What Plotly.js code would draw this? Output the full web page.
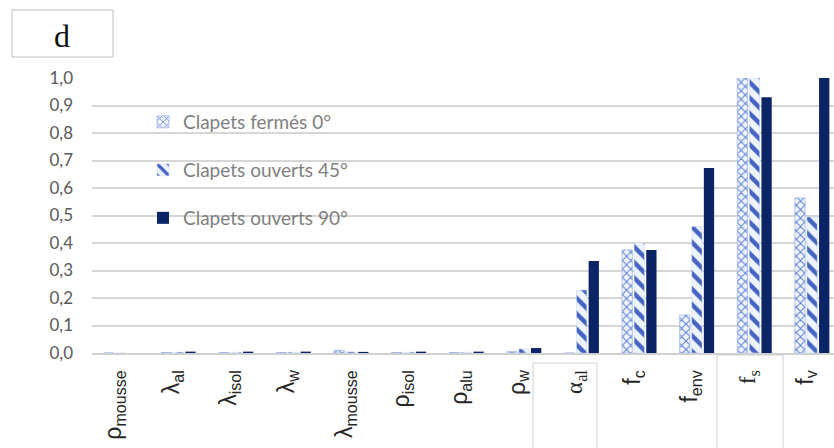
<!DOCTYPE html>
<html><head><meta charset="utf-8">
<script src="https://cdn.plot.ly/plotly-3.0.1.min.js"></script>
<style>body{margin:0;background:#fff}#c{width:834px;height:448px}</style>
</head><body><div id="c"></div>
<script>
const categories = ['ρ<sub>mousse</sub>','λ<sub>al</sub>','λ<sub>isol</sub>','λ<sub>w</sub>','λ<sub>mousse</sub>','ρ<sub>isol</sub>','ρ<sub>alu</sub>','ρ<sub>w</sub>',
  '<span style="font-family:Liberation Serif">α<sub>al</sub></span>','f<sub>c</sub>','f<sub>env</sub>','<span style="font-family:Liberation Serif">f<sub>s</sub></span>','f<sub>v</sub>'];
const seriesNames = ['Clapets fermés 0°','Clapets ouverts 45°','Clapets ouverts 90°'];
const closed0 = [0, 0.002, 0.002, 0.002, 0.010, 0.002, 0.002, 0.005, 0, 0.375, 0.138, 1.0, 0.564];
const open45  = [0, 0.003, 0.003, 0.003, 0.004, 0.003, 0.003, 0.015, 0.229, 0.40, 0.46, 1.0, 0.495];
const open90  = [0, 0.005, 0.005, 0.005, 0.004, 0.005, 0.005, 0.018, 0.335, 0.375, 0.673, 0.93, 1.0];
const yTicks = [0,0.1,0.2,0.3,0.4,0.5,0.6,0.7,0.8,0.9,1.0];

const idx = categories.map((_, i) => i);
const traces = [
  {type:'bar', x: idx, y: closed0, name: seriesNames[0], legend:'legend',
   marker:{color:'#f1f5ff', line:{color:'#8fa6e0', width:0.6},
     pattern:{shape:'x', fgcolor:'#5a7dd4', bgcolor:'#f1f5ff', size:6, solidity:0.3}}},
  {type:'bar', x: idx, y: open45, name: seriesNames[1], legend:'legend2',
   marker:{color:'#eef4ff', line:{color:'#c9d6f2', width:0.5},
     pattern:{shape:'\\', fgcolor:'#4563c0', bgcolor:'#eef4ff', size:11, solidity:0.4}}},
  {type:'bar', x: idx, y: open90, name: seriesNames[2], legend:'legend3',
   marker:{color:'#0b2466', line:{width:0}}}
];
const legFont = {family:'Lato, Noto Sans, sans-serif', size:19, color:'#7f7f7f'};
const legBase = {xanchor:'left', yanchor:'middle', bgcolor:'rgba(0,0,0,0)', font:legFont, itemwidth:30, borderwidth:0};
const lx = (143-92)/742;
const layout = {
  width:834, height:448,
  margin:{l:92, r:0, t:78, b:95},
  paper_bgcolor:'#fff', plot_bgcolor:'#fff',
  separators:',.',
  barmode:'group', bargap:0.37, bargroupgap:0.15,
  showlegend:true,
  legend: Object.assign({}, legBase, {x:lx, y:(353-122)/275}),
  legend2: Object.assign({}, legBase, {x:lx, y:(353-170)/275}),
  legend3: Object.assign({}, legBase, {x:lx, y:(353-218)/275}),
  xaxis:{tickmode:'array', tickvals: idx, ticktext: categories, tickangle:-90,
    range:[-0.5, 12.38], showgrid:false, zeroline:false, showline:true, linecolor:'#d0d0d0', linewidth:2,
    ticks:'', ticklabelstandoff:6, ticklabelshift:-7,
    tickfont:{family:'Liberation Sans, Arial, sans-serif', size:23, color:'#262626'}},
  yaxis:{range:[0,1.0], tickmode:'array', tickvals:yTicks, tickformat:'.1f',
    showgrid:true, gridcolor:'#d6d6d6', gridwidth:2, zeroline:false, showline:false,
    ticks:'', ticklabelstandoff:18,
    tickfont:{family:'Lato, Noto Sans, sans-serif', size:17, color:'#595959'}},
  shapes:[
    {type:'rect', xref:'paper', yref:'paper', x0:(12-92)/742, x1:(113-92)/742, y0:(353-57)/275, y1:(353-10)/275,
     line:{color:'#bfbfbf', width:1}, fillcolor:'rgba(0,0,0,0)'},
    {type:'rect', xref:'paper', yref:'paper', x0:(533-92)/742, x1:(597-92)/742, y0:(353-452)/275, y1:(353-363)/275,
     line:{color:'#d0d0d0', width:1}, fillcolor:'rgba(0,0,0,0)'},
    {type:'rect', xref:'paper', yref:'paper', x0:(717-92)/742, x1:(783-92)/742, y0:(353-452)/275, y1:(353-355)/275,
     line:{color:'#d0d0d0', width:1}, fillcolor:'rgba(0,0,0,0)'}
  ],
  annotations:[
    {text:'d', xref:'paper', yref:'paper', x:(62-92)/742, y:(353-36)/275, showarrow:false,
     xanchor:'center', yanchor:'middle', font:{family:'Liberation Serif, serif', size:32, color:'#111'}}
  ]
};
Plotly.newPlot('c', traces, layout, {displayModeBar:false, staticPlot:true});
</script></body></html>
